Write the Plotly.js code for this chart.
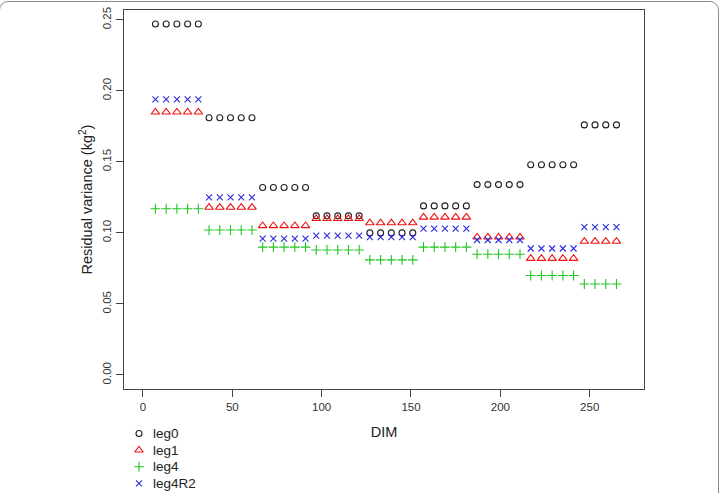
<!DOCTYPE html>
<html>
<head>
<meta charset="utf-8">
<script src="https://cdn.plot.ly/plotly-3.0.1.min.js"></script>
<style>
  html, body { margin: 0; padding: 0; background: #fff; }
  #wrap { position: relative; width: 725px; height: 493px; overflow: hidden; }
  #chart { width: 725px; height: 493px; }
  #frame {
    position: absolute; left: -1px; top: 1px; width: 720px; height: 600px;
    border: 1.5px solid #8a8a8a; border-radius: 9px; pointer-events: none;
    box-sizing: border-box;
  }
</style>
</head>
<body>
<div id="wrap">
  <div id="chart"></div>
  <div id="frame"></div>
</div>
<script>
// Day positions (DIM) shared by all four models
const dim = [7, 13, 19, 25, 31, 37, 43, 49, 55, 61, 67, 73, 79, 85, 91,
  97, 103, 109, 115, 121, 127, 133, 139, 145, 151, 157, 163, 169, 175, 181,
  187, 193, 199, 205, 211, 217, 223, 229, 235, 241, 247, 253, 259, 265];

const seriesNames = ["leg0", "leg1", "leg4", "leg4R2"];

// Residual variance (kg^2) per DIM for each model
const leg0 = [0.247, 0.247, 0.247, 0.247, 0.247, 0.181, 0.181, 0.181, 0.181, 0.181,
  0.132, 0.132, 0.132, 0.132, 0.132, 0.112, 0.112, 0.112, 0.112, 0.112,
  0.100, 0.100, 0.100, 0.100, 0.100, 0.119, 0.119, 0.119, 0.119, 0.119,
  0.134, 0.134, 0.134, 0.134, 0.134, 0.148, 0.148, 0.148, 0.148, 0.148,
  0.176, 0.176, 0.176, 0.176];
const leg1 = [0.185, 0.185, 0.185, 0.185, 0.185, 0.118, 0.118, 0.118, 0.118, 0.118,
  0.105, 0.105, 0.105, 0.105, 0.105, 0.110, 0.110, 0.110, 0.110, 0.110,
  0.107, 0.107, 0.107, 0.107, 0.107, 0.111, 0.111, 0.111, 0.111, 0.111,
  0.097, 0.097, 0.097, 0.097, 0.097, 0.082, 0.082, 0.082, 0.082, 0.082,
  0.094, 0.094, 0.094, 0.094];
const leg4 = [0.117, 0.117, 0.117, 0.117, 0.117, 0.102, 0.102, 0.102, 0.102, 0.102,
  0.090, 0.090, 0.090, 0.090, 0.090, 0.088, 0.088, 0.088, 0.088, 0.088,
  0.081, 0.081, 0.081, 0.081, 0.081, 0.090, 0.090, 0.090, 0.090, 0.090,
  0.085, 0.085, 0.085, 0.085, 0.085, 0.070, 0.070, 0.070, 0.070, 0.070,
  0.064, 0.064, 0.064, 0.064];
const leg4R2 = [0.194, 0.194, 0.194, 0.194, 0.194, 0.125, 0.125, 0.125, 0.125, 0.125,
  0.096, 0.096, 0.096, 0.096, 0.096, 0.098, 0.098, 0.098, 0.098, 0.098,
  0.097, 0.097, 0.097, 0.097, 0.097, 0.103, 0.103, 0.103, 0.103, 0.103,
  0.095, 0.095, 0.095, 0.095, 0.095, 0.089, 0.089, 0.089, 0.089, 0.089,
  0.104, 0.104, 0.104, 0.104];

const xTicks = [0, 50, 100, 150, 200, 250];
const yTicks = [0.00, 0.05, 0.10, 0.15, 0.20, 0.25];

const W = 725, H = 493;
const FONT = "Liberation Sans, Arial, Helvetica, sans-serif";
const AXIS = "#444";

// marker style per model, R-like open symbols
const styles = [
  { symbol: "circle-open", size: 6, color: "#222222" },
  { symbol: "triangle-up-open", size: 7.5, color: "#ee1111" },
  { symbol: "cross-thin-open", size: 7, color: "#22c422" },
  { symbol: "x-thin-open", size: 6, color: "#2a2ae0" }
];
const values = [leg0, leg1, leg4, leg4R2];

// plot box in pixels
const box = { l: 124, r: 644, t: 10, b: 389 };

const traces = values.map((v, i) => ({
  type: "scatter", mode: "markers", name: seriesNames[i],
  x: dim, y: v, xaxis: "x", yaxis: "y",
  marker: { symbol: styles[i].symbol, size: styles[i].size,
            color: styles[i].color, line: { color: styles[i].color, width: 1.1 } },
  showlegend: false, cliponaxis: false
}));

// key below the plot: symbols on a pixel-scaled overlay axis, names as text
const keyX = 139, keyY0 = 433.5, keyStep = 16.6;
seriesNames.forEach((n, i) => {
  traces.push({
    type: "scatter", mode: "markers", xaxis: "x2", yaxis: "y2",
    x: [keyX], y: [keyY0 + keyStep * i], hoverinfo: "skip", showlegend: false,
    marker: { symbol: styles[i].symbol, size: styles[i].size,
              color: styles[i].color, line: { color: styles[i].color, width: 1.1 } },
    cliponaxis: false
  });
});
const keyText = seriesNames.map((n, i) => ({
  text: n, xref: "paper", yref: "paper",
  x: 151 / W, y: 1 - (keyY0 + keyStep * i) / H,
  xanchor: "left", yanchor: "middle", showarrow: false,
  font: { family: FONT, size: 13.5, color: "#222" }
}));

const layout = {
  width: W, height: H,
  margin: { l: 0, r: 0, t: 0, b: 0 },
  paper_bgcolor: "#fff", plot_bgcolor: "rgba(0,0,0,0)",
  showlegend: false,
  font: { family: FONT, color: "#333" },
  xaxis: {
    domain: [box.l / W, box.r / W], range: [-10.6, 280.4], anchor: "y",
    tickvals: xTicks, ticktext: xTicks.map(String),
    ticks: "outside", ticklen: 7, tickcolor: AXIS, tickwidth: 1,
    showline: true, mirror: true, linecolor: AXIS, linewidth: 1.2,
    showgrid: false, zeroline: false,
    tickfont: { family: FONT, size: 11.5, color: "#333" },
    title: { text: "DIM", font: { family: FONT, size: 14.5, color: "#222" }, standoff: 14 }
  },
  yaxis: {
    domain: [1 - box.b / H, 1 - box.t / H], range: [-0.0099, 0.2569], anchor: "x",
    tickvals: yTicks, ticktext: yTicks.map(v => v.toFixed(2)), tickangle: -90,
    ticks: "outside", ticklen: 7, tickcolor: AXIS, tickwidth: 1,
    showline: true, mirror: true, linecolor: AXIS, linewidth: 1.2,
    showgrid: false, zeroline: false,
    tickfont: { family: FONT, size: 11.5, color: "#333" },
    title: { text: "Residual variance (kg<sup>2</sup>)",
             font: { family: FONT, size: 14.5, color: "#222" }, standoff: 5 }
  },
  xaxis2: { domain: [0, 1], range: [0, W], anchor: "y2", visible: false, fixedrange: true },
  yaxis2: { domain: [0, 1], range: [H, 0], anchor: "x2", visible: false, fixedrange: true },
  annotations: keyText
};

Plotly.newPlot("chart", traces, layout, { displayModeBar: false, staticPlot: true });
</script>
</body>
</html>
